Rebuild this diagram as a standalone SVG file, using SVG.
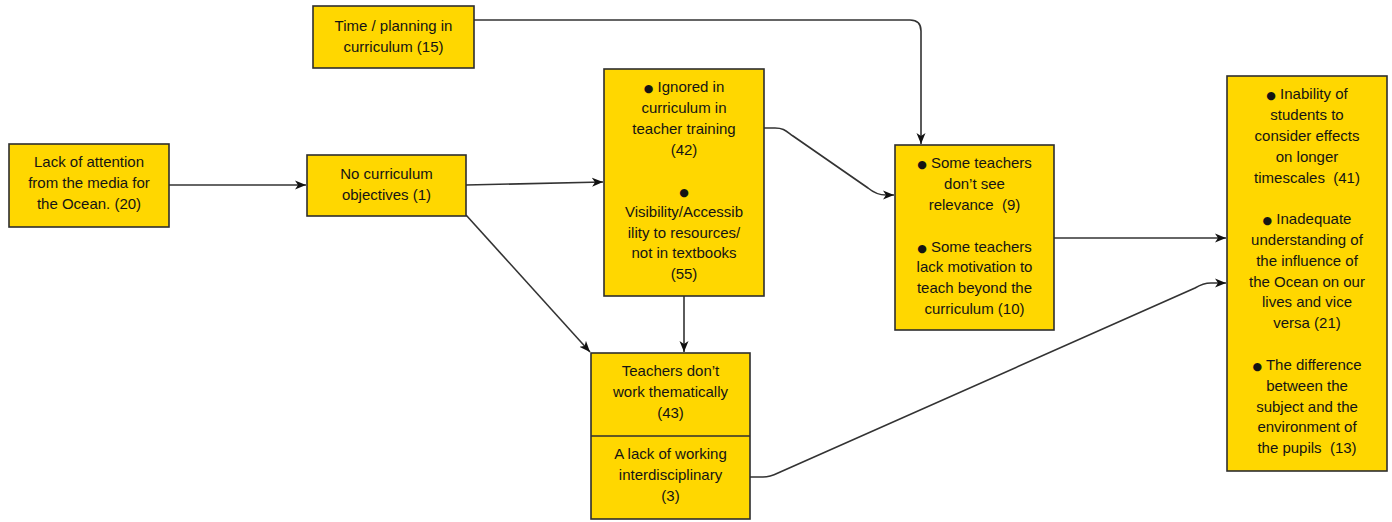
<svg xmlns="http://www.w3.org/2000/svg" width="1392" height="522" viewBox="0 0 1392 522">
<style>
.box{fill:#FFD700;stroke:#2e2e2e;stroke-width:1.6}
.t{font-family:"Liberation Sans",Arial,sans-serif;font-size:15px;fill:#141414;text-anchor:middle;white-space:pre}
.b{font-family:"DejaVu Sans",sans-serif;font-size:11px}
.c{fill:none;stroke:#333;stroke-width:1.6}
</style>
<defs>
<marker id="ah" markerUnits="userSpaceOnUse" markerWidth="12" markerHeight="10" refX="11" refY="5" orient="auto">
<path d="M0,0.5 L11,5 L0,9.5 L3,5 z" fill="#111"/>
</marker>
</defs>
<rect width="1392" height="522" fill="#fff"/>
<g id="connectors">
<path class="c" d="M169,185 H306" marker-end="url(#ah)"/>
<path class="c" d="M466,185 L603,182" marker-end="url(#ah)"/>
<path class="c" d="M466,215 L590,352" marker-end="url(#ah)"/>
<path class="c" d="M684,296 V352" marker-end="url(#ah)"/>
<path class="c" d="M474,20 H910 Q921,20 921,31 V144" marker-end="url(#ah)"/>
<path class="c" d="M764,128 L775,128 C784,128 786,131 793,136 L868,188 C874,193 879,195 886,195 L894,195" marker-end="url(#ah)"/>
<path class="c" d="M1054,238 H1226" marker-end="url(#ah)"/>
<path class="c" d="M750,477 L763,477 Q770,477 778,473 L1195,288 Q1203,283 1211,283 L1226,283" marker-end="url(#ah)"/>
</g>
<g id="n-time">
<rect class="box" x="313" y="6" width="161" height="62"/>
<text class="t" x="393.5" y="31">Time / planning in</text>
<text class="t" x="393.5" y="52">curriculum (15)</text>
</g>
<g id="n-media">
<rect class="box" x="9" y="144" width="160" height="83"/>
<text class="t" x="89" y="167">Lack of attention</text>
<text class="t" x="89" y="188">from the media for</text>
<text class="t" x="89" y="209">the Ocean. (20)</text>
</g>
<g id="n-objectives">
<rect class="box" x="307" y="155" width="159" height="61"/>
<text class="t" x="386.5" y="179">No curriculum</text>
<text class="t" x="386.5" y="200">objectives (1)</text>
</g>
<g id="n-ignored">
<rect class="box" x="604" y="69" width="160" height="227"/>
<text class="t" x="684" y="92" xml:space="preserve"><tspan class="b">●</tspan> Ignored in</text>
<text class="t" x="684" y="113">curriculum in</text>
<text class="t" x="684" y="134">teacher training</text>
<text class="t" x="684" y="155">(42)</text>
<text class="t" x="684" y="196"><tspan class="b">●</tspan></text>
<text class="t" x="684" y="217">Visibility/Accessib</text>
<text class="t" x="684" y="238">ility to resources/</text>
<text class="t" x="684" y="258">not in textbooks</text>
<text class="t" x="684" y="279">(55)</text>
</g>
<g id="n-teachers">
<rect class="box" x="591" y="353" width="159" height="166"/>
<line x1="591" y1="436" x2="750" y2="436" stroke="#2e2e2e" stroke-width="1.4"/>
<text class="t" x="670.5" y="376">Teachers don’t</text>
<text class="t" x="670.5" y="397">work thematically</text>
<text class="t" x="670.5" y="418">(43)</text>
<text class="t" x="670.5" y="459">A lack of working</text>
<text class="t" x="670.5" y="480">interdisciplinary</text>
<text class="t" x="670.5" y="501">(3)</text>
</g>
<g id="n-relevance">
<rect class="box" x="895" y="145" width="159" height="185"/>
<text class="t" x="974.5" y="168" xml:space="preserve"><tspan class="b">●</tspan> Some teachers</text>
<text class="t" x="974.5" y="189">don’t see</text>
<text class="t" x="974.5" y="210" xml:space="preserve">relevance  (9)</text>
<text class="t" x="974.5" y="252" xml:space="preserve"><tspan class="b">●</tspan> Some teachers</text>
<text class="t" x="974.5" y="272">lack motivation to</text>
<text class="t" x="974.5" y="293">teach beyond the</text>
<text class="t" x="974.5" y="314">curriculum (10)</text>
</g>
<g id="n-outcomes">
<rect class="box" x="1227" y="76" width="160" height="395"/>
<text class="t" x="1307" y="99" xml:space="preserve"><tspan class="b">●</tspan> Inability of</text>
<text class="t" x="1307" y="120">students to</text>
<text class="t" x="1307" y="141">consider effects</text>
<text class="t" x="1307" y="162">on longer</text>
<text class="t" x="1307" y="183" xml:space="preserve">timescales  (41)</text>
<text class="t" x="1307" y="224" xml:space="preserve"><tspan class="b">●</tspan> Inadequate</text>
<text class="t" x="1307" y="245">understanding of</text>
<text class="t" x="1307" y="266">the influence of</text>
<text class="t" x="1307" y="287">the Ocean on our</text>
<text class="t" x="1307" y="307">lives and vice</text>
<text class="t" x="1307" y="328">versa (21)</text>
<text class="t" x="1307" y="370" xml:space="preserve"><tspan class="b">●</tspan> The difference</text>
<text class="t" x="1307" y="391">between the</text>
<text class="t" x="1307" y="412">subject and the</text>
<text class="t" x="1307" y="432">environment of</text>
<text class="t" x="1307" y="453" xml:space="preserve">the pupils  (13)</text>
</g>
</svg>
